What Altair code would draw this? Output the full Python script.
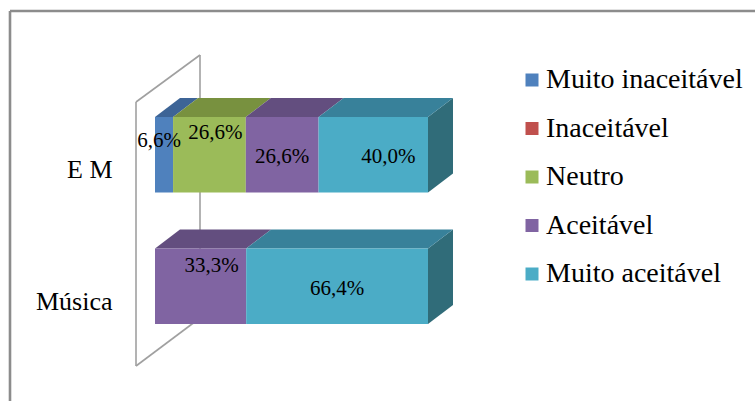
import altair as alt
import pandas as pd

# ---------------- data ----------------
categories = ["E M", "Música"]
series = ["Muito inaceitável", "Inaceitável", "Neutro", "Aceitável", "Muito aceitável"]
values_em = [6.6, 0.0, 26.6, 26.6, 40.0]
values_musica = [0.0, 0.0, 0.0, 33.3, 66.4]

# ---------------- styles ----------------
front_colors = ["#4F81BD", "#C0504D", "#9BBB59", "#8064A2", "#4BACC6"]
top_colors = ["#3D6496", "#953E3C", "#78913F", "#634E7F", "#38819A"]
side_colors = ["#2F4E74", "#743030", "#5D7031", "#4D3C62", "#306C79"]
# label nudges in pixels (dx, dy), one per series, per category
label_dx = {"E M": [-5, 0, 6, 0, 15], "Música": [0, 0, 0, 11, 0]}
label_dy = {"E M": [-14, 0, -22, 2, 2], "Música": [0, 0, 0, -20, 3]}

FONT = "Liberation Serif"
PLOT_W, PLOT_H = 273, 263
STEP_PX = PLOT_H / 2.0
HALF = 0.287          # half bar thickness in category-index units
DEPTH_X, DEPTH_Y = 25, 19   # 3-D depth in pixels
px_pct = 100.0 / PLOT_W
px_idx = 1.0 / STEP_PX

all_values = {"E M": values_em, "Música": values_musica}

front_rows, top_rows, side_rows = [], [], []
for ci, cat in enumerate(categories):
    vals = all_values[cat]
    total = sum(vals)
    cum = 0.0
    segs = [(si, v) for si, v in enumerate(vals) if v > 0]
    for k, (si, v) in enumerate(segs):
        x0 = cum / total * 100
        x1 = (cum + v) / total * 100
        cum += v
        txt = f"{v:.1f}".replace(".", ",") + "%"
        front_rows.append({
            "cat": cat, "serie": series[si], "x0": x0, "x1": x1,
            "yt": ci - HALF, "yb": ci + HALF, "label": txt,
            "lx": (x0 + x1) / 2 + label_dx[cat][si] * px_pct,
            "ly": ci + label_dy[cat][si] * px_idx,
        })
        sid = f"{cat}-{si}"
        top_rows.append({"id": sid, "y": ci - HALF, "xa": x0, "xb": x1, "col": top_colors[si]})
        top_rows.append({"id": sid, "y": ci - HALF - DEPTH_Y * px_idx,
                         "xa": x0 + DEPTH_X * px_pct, "xb": x1 + DEPTH_X * px_pct,
                         "col": top_colors[si]})
        if k == len(segs) - 1:
            side_rows.append({"id": sid, "x": x1, "ya": ci - HALF, "yb": ci + HALF, "col": side_colors[si]})
            side_rows.append({"id": sid, "x": x1 + DEPTH_X * px_pct,
                              "ya": ci - HALF - DEPTH_Y * px_idx, "yb": ci + HALF - DEPTH_Y * px_idx,
                              "col": side_colors[si]})

front_df = pd.DataFrame(front_rows)
top_df = pd.DataFrame(top_rows)
side_df = pd.DataFrame(side_rows)

xscale = alt.Scale(domain=[0, 100], nice=False, zero=False)
yscale = alt.Scale(domain=[-0.5, 1.5], nice=False, zero=False, reverse=True)
label_expr = "[" + ",".join("'" + c + "'" for c in categories) + "][datum.value]"
yaxis = alt.Axis(values=list(range(len(categories))), labelExpr=label_expr, title=None,
                 domain=False, ticks=False, grid=False, labelPadding=43, labelOffset=15,
                 labelFont=FONT, labelFontSize=26, labelColor="#000000",
                 labelFlush=False, labelOverlap=False, labelBound=False)

one = pd.DataFrame({"a": [0]})
GREY = "#8C8C8C"
WALL = "#A0A0A0"


def rule(x, y, x2=None, y2=None, color=WALL, width=1.6):
    enc = {"x": alt.value(x), "y": alt.value(y)}
    if x2 is not None:
        enc["x2"] = alt.value(x2)
    if y2 is not None:
        enc["y2"] = alt.value(y2)
    return alt.Chart(one).mark_rule(color=color, strokeWidth=width).encode(**enc)

# outer frame (top and left edges visible)
frame = [
    rule(-145, -78, x2=700, y2=-78, color=GREY, width=2.6),
    rule(-145, -78, x2=-145, y2=400, color=GREY, width=2.6),
]
# back-left wall of the 3-D chart
wall = [
    rule(-19, 13, x2=-19, y2=277),
    rule(45, -34, x2=45, y2=229),
    rule(-19, 13, x2=45, y2=-34),
    rule(-19, 277, x2=45, y2=229),
]

side = alt.Chart(side_df).mark_area(orient="vertical").encode(
    x=alt.X("x:Q", scale=xscale, axis=None, stack=None),
    y=alt.Y("ya:Q", scale=yscale, axis=yaxis, stack=None),
    y2="yb:Q",
    detail="id:N",
    color=alt.Color("col:N", scale=None),
)

top = alt.Chart(top_df).mark_area(orient="horizontal").encode(
    y=alt.Y("y:Q", scale=yscale, axis=yaxis, stack=None),
    x=alt.X("xa:Q", scale=xscale, axis=None, stack=None),
    x2="xb:Q",
    detail="id:N",
    color=alt.Color("col:N", scale=None),
)

front = alt.Chart(front_df).mark_rect().encode(
    x=alt.X("x0:Q", scale=xscale, axis=None),
    x2="x1:Q",
    y=alt.Y("yt:Q", scale=yscale, axis=yaxis),
    y2="yb:Q",
    color=alt.Color("serie:N", scale=alt.Scale(domain=series, range=front_colors),
                    sort=series,
                    legend=alt.Legend(orient="none", legendX=363, legendY=-23, title=None,
                                      symbolType="square", symbolSize=169, symbolStrokeWidth=0,
                                      labelFont=FONT, labelFontSize=28, labelColor="#000000",
                                      labelOffset=0, rowPadding=20.5, padding=0, labelLimit=400)),
)

labels = alt.Chart(front_df).mark_text(font=FONT, fontSize=21, color="#000000",
                                       align="center", baseline="middle").encode(
    x=alt.X("lx:Q", scale=xscale, axis=None),
    y=alt.Y("ly:Q", scale=yscale, axis=yaxis),
    text="label:N",
)

chart = alt.layer(*frame, *wall, side, top, front, labels).properties(
    width=PLOT_W, height=PLOT_H,
    autosize=alt.AutoSizeParams(type="none"),
    padding={"left": 155, "top": 89, "right": 327, "bottom": 49},
    background="white",
).configure_view(stroke=None)

chart.save("out.html", embed_options={"renderer": "svg", "actions": False})
